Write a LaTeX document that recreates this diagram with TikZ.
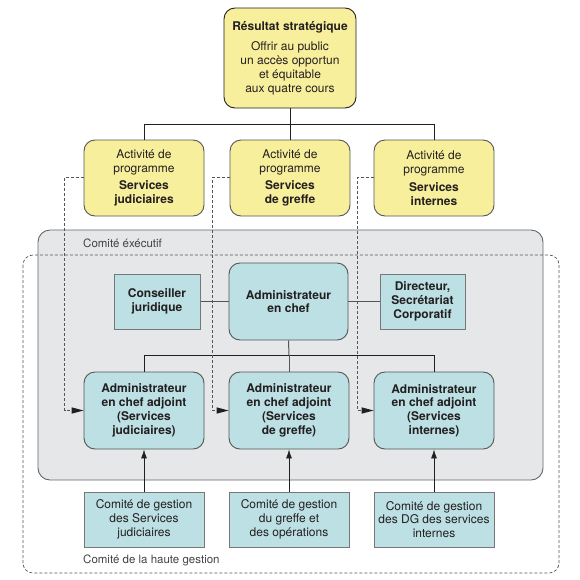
\documentclass[tikz,border=0pt]{standalone}
\usepackage{fontspec}
\setmainfont{TeX Gyre Heros}
\usetikzlibrary{arrows.meta}
\definecolor{yel}{HTML}{F8EF9C}
\definecolor{teal}{HTML}{BCE0E3}
\definecolor{grayfill}{HTML}{E6E7E9}
\definecolor{bord}{HTML}{555555}
\definecolor{txt}{HTML}{231F20}
\tikzset{
  every node/.style={text=txt, font=\fontsize{12}{13.8}\selectfont, align=center, inner sep=0pt},
  ybox/.style={draw=bord, line width=0.9pt, fill=yel, rounded corners=11pt, minimum width=120pt, minimum height=76pt},
  tbox/.style={draw=bord, line width=0.9pt, fill=teal, rounded corners=11pt, minimum width=120pt, minimum height=77pt, font=\fontsize{12}{13.8}\selectfont\bfseries},
  sbox/.style={draw=bord!80, line width=1pt, fill=teal, minimum height=55pt},
  orgline/.style={draw=txt, line width=0.8pt},
  dline/.style={draw=bord, line width=0.7pt, dash pattern=on 3pt off 2pt},
  tip/.style={-{Latex[length=9pt,width=6pt]}},
  grouplabel/.style={font=\fontsize{11.5}{13}\selectfont, anchor=west, text=txt!85},
}
\begin{document}
\begin{tikzpicture}[x=1pt,y=-1pt]
\useasboundingbox (0,0) rectangle (580,579);
% executive committee
\draw[draw=bord!90, line width=0.9pt, fill=grayfill, rounded corners=12pt] (38,230) rectangle (543,480);
\node[grouplabel] (lexec) at (83,243) {Comité éxécutif};
% top box
\node[ybox, minimum width=132pt, minimum height=100pt, draw=txt] (top) at (290,58)
  {\textbf{Résultat stratégique}\\[7pt]Offrir au public\\un accès opportun\\et équitable\\aux quatre cours};
% activity boxes
\node[ybox] (a1) at (144,178) {Activité de\\programme\\[4pt]\textbf{Services}\\\textbf{judiciaires}};
\node[ybox] (a2) at (290,178) {Activité de\\programme\\[4pt]\textbf{Services}\\\textbf{de greffe}};
\node[ybox] (a3) at (434,178) {Activité de\\programme\\[4pt]\textbf{Services}\\\textbf{internes}};
\coordinate (j1) at (290,124);
\draw[orgline] (a1.north) |- (j1) -- (top.south);
\draw[orgline] (a3.north) |- (j1);
\draw[orgline] (a2.north) -- (j1);
% admin en chef
\node[tbox, minimum width=119pt] (ac) at (288.5,301.5) {Administrateur\\en chef};
\node[sbox, minimum width=86pt, font=\fontsize{12}{13.8}\selectfont\bfseries] (cj) at (157,301.5) {Conseiller\\juridique};
\node[sbox, minimum width=85pt, font=\fontsize{12}{13.8}\selectfont\bfseries] (dir) at (422.5,301.5) {Directeur,\\Secrétariat\\Corporatif};
\draw[draw=bord, line width=1pt] (cj.east) -- (ac.west);
\draw[draw=bord, line width=1pt] (ac.east) -- (dir.west);
% adjoints
\node[tbox] (d1) at (144,410.5) {Administrateur\\en chef adjoint\\(Services\\judiciaires)};
\node[tbox] (d2) at (289,410.5) {Administrateur\\en chef adjoint\\(Services\\de greffe)};
\node[tbox] (d3) at (434,410.5) {Administrateur\\en chef adjoint\\(Services\\internes)};
\coordinate (j2) at (289,355);
\draw[draw=bord, line width=1pt] (ac.south) -- (j2);
\draw[orgline] (d1.north) |- (j2);
\draw[orgline] (d3.north) |- (j2);
\draw[draw=bord, line width=1pt] (d2.north) -- (j2);
% bottom committees
\node[sbox, minimum width=120pt] (g1) at (144,519.5) {Comité de gestion\\des Services\\judiciaires};
\node[sbox, minimum width=120pt] (g2) at (289,519.5) {Comité de gestion\\du greffe et\\des opérations};
\node[sbox, minimum width=120pt] (g3) at (434,519.5) {Comité de gestion\\des DG des services\\internes};
\draw[orgline, tip] (g1.north) -- (d1.south);
\draw[orgline, tip] (g2.north) -- (d2.south);
\draw[orgline, tip] (g3.north) -- (d3.south);
% senior management dashed frame
\draw[dline, rounded corners=10pt] (23,255) rectangle (559,573);
\node[grouplabel] (lhaute) at (83,560) {Comité de la haute gestion};
% dashed program links
\draw[dline] (a1.west) ++(0,-1) -- ++(-19,0) |- ([xshift=-10pt]d1.west);
\draw[dline] (a2.west) ++(0,-1) -- ++(-17,0) |- ([xshift=-10pt]d2.west);
\draw[dline] (a3.west) ++(0,-1) -- ++(-16,0) |- ([xshift=-10pt]d3.west);
\draw[draw=none, fill=txt] (d1.west) -- ++(-12,-3.2) -- ++(0,6.4) -- cycle;
\draw[draw=none, fill=txt] (d2.west) -- ++(-12,-3.2) -- ++(0,6.4) -- cycle;
\draw[draw=none, fill=txt] (d3.west) -- ++(-12,-3.2) -- ++(0,6.4) -- cycle;
\end{tikzpicture}
\end{document}
